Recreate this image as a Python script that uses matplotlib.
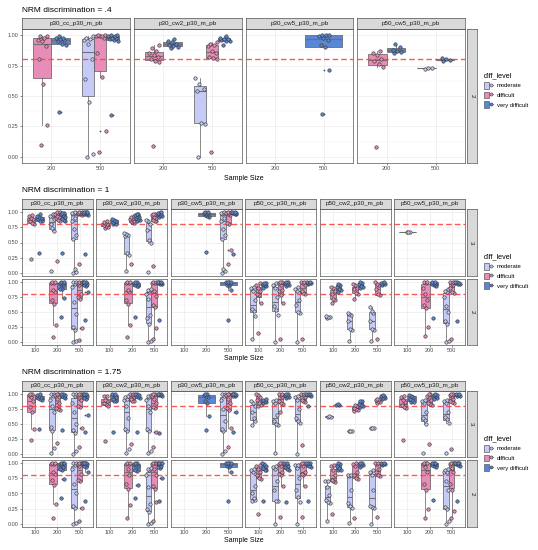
import numpy as np
import matplotlib
matplotlib.use("Agg")
import matplotlib.pyplot as plt
from matplotlib.patches import Patch
from matplotlib.lines import Line2D
from matplotlib.legend_handler import HandlerTuple

plt.rcParams['font.family'] = ['Liberation Sans', 'DejaVu Sans']

# ---- categories ----
levels = ['moderate', 'difficult', 'very difficult']
level_keys = ['mod', 'dif', 'vd']
level_colors = ['#C5CBF6', '#E88DB8', '#5A86D6']
conds_04 = ['p30_cc_p30_m_pb', 'p30_cw2_p30_m_pb', 'p30_cw5_p30_m_pb', 'p50_cw5_p30_m_pb']
conds_all = ['p30_cc_p30_m_pb', 'p30_cw2_p30_m_pb', 'p30_cw5_p30_m_pb',
             'p50_cc_p30_m_pb', 'p50_cw2_p30_m_pb', 'p50_cw5_p30_m_pb']
sizes_04 = [200, 500]
sizes_all = [100, 200, 500]
cutoff = 0.8

# ---- NRM discrimination = .4 (row 2) ----
s1_cc = {
    (200, 'dif'): [0.10, 0.26, 0.60, 0.80, 0.91, 0.95, 0.96, 0.98, 0.99, 0.99],
    (200, 'vd'): [0.37, 0.92, 0.93, 0.95, 0.96, 0.97, 0.98, 0.98, 0.99],
    (500, 'mod'): [0.00, 0.02, 0.45, 0.64, 0.80, 0.93, 0.96, 0.97, 0.98, 0.99],
    (500, 'dif'): [0.04, 0.21, 0.66, 0.85, 0.98, 0.99, 0.99, 0.99, 1.0, 1.0],
    (500, 'vd'): [0.34, 0.95, 0.96, 0.97, 0.98, 0.98, 0.99, 0.99, 1.0, 1.0],
}
s1_cw2 = {
    (200, 'dif'): [0.09, 0.78, 0.79, 0.80, 0.82, 0.84, 0.85, 0.87, 0.89, 0.92],
    (200, 'vd'): [0.89, 0.90, 0.91, 0.92, 0.93, 0.94, 0.95, 0.97],
    (500, 'mod'): [0.00, 0.27, 0.28, 0.54, 0.56, 0.60, 0.65],
    (500, 'dif'): [0.04, 0.80, 0.81, 0.82, 0.85, 0.87, 0.91, 0.92, 0.93, 0.94],
    (500, 'vd'): [0.92, 0.95, 0.955, 0.96, 0.965, 0.97, 0.98, 0.99],
}
s1_cw5 = {
    (500, 'vd'): [0.35, 0.71, 0.90, 0.92, 0.96, 0.98, 0.99, 1.0, 1.0, 1.0],
}
s1_p50cw5 = {
    (200, 'dif'): [0.08, 0.74, 0.76, 0.79, 0.80, 0.84, 0.85, 0.87],
    (200, 'vd'): [0.855, 0.86, 0.87, 0.88, 0.90, 0.93],
    (500, 'mod'): [0.725, 0.727, 0.73],
    (500, 'vd'): [0.79, 0.795, 0.80, 0.81],
}

# ---- NRM discrimination = 1 ----
s2_r3_cc = {
    (100, 'dif'): [0.23, 0.80, 0.82, 0.85, 0.88, 0.90, 0.93, 0.95],
    (100, 'vd'): [0.32, 0.85, 0.86, 0.88, 0.90, 0.92, 0.93, 0.97],
    (200, 'mod'): [0.04, 0.69, 0.73, 0.80, 0.88, 0.93, 0.94, 0.97],
    (200, 'dif'): [0.20, 0.86, 0.87, 0.90, 0.92, 0.93, 0.96, 0.98, 1.0, 1.0],
    (200, 'vd'): [0.32, 0.86, 0.87, 0.88, 0.92, 0.95, 0.97, 0.98, 0.99],
    (500, 'mod'): [0.0, 0.02, 0.07, 0.55, 0.62, 0.72, 0.85, 0.90, 0.96, 0.98, 0.98, 0.99, 1.0],
    (500, 'dif'): [0.14, 0.95, 0.96, 0.97, 0.98, 0.98, 0.99, 0.99, 1.0, 1.0],
    (500, 'vd'): [0.31, 0.95, 0.96, 0.97, 0.98, 0.99, 0.99, 1.0, 1.0, 1.0],
}
s2_r3_cw2 = {
    (100, 'dif'): [0.74, 0.75, 0.77, 0.78, 0.80, 0.82, 0.83, 0.85],
    (100, 'vd'): [0.80, 0.81, 0.83, 0.84, 0.86, 0.87, 0.88],
    (200, 'mod'): [0.03, 0.30, 0.32, 0.60, 0.62, 0.64, 0.66],
    (200, 'dif'): [0.15, 0.82, 0.83, 0.85, 0.86, 0.88, 0.89, 0.91, 0.92, 0.93],
    (200, 'vd'): [0.86, 0.87, 0.89, 0.90, 0.92, 0.93, 0.95, 0.96, 0.97],
    (500, 'mod'): [0.01, 0.50, 0.54, 0.70, 0.80, 0.85, 0.87],
    (500, 'dif'): [0.12, 0.85, 0.86, 0.87, 0.90, 0.92, 0.95, 0.96, 0.97],
    (500, 'vd'): [0.92, 0.94, 0.95, 0.96, 0.97, 0.98, 0.99, 1.0],
}
s2_r3_cw5 = {
    (200, 'vd'): [0.35, 0.92, 0.93, 0.95, 0.96, 0.97, 0.98, 0.99, 1.0, 1.0],
    (500, 'mod'): [0.0, 0.04, 0.07, 0.55, 0.62, 0.72, 0.85, 0.90, 0.96, 0.98, 0.98, 0.99, 1.0],
    (500, 'dif'): [0.14, 0.38, 0.80, 0.82, 0.95, 0.97, 0.99, 0.99, 1.0, 1.0],
    (500, 'vd'): [0.31, 0.96, 0.97, 0.98, 0.99, 0.99, 1.0, 1.0],
}
s2_r3_p50cc = {}
s2_r3_p50cw2 = {}
s2_r3_p50cw5 = {
    (100, 'mod'): [0.67, 0.67, 0.675],
}
s2_r2_cc = {
    (200, 'dif'): [0.09, 0.29, 0.64, 0.70, 0.84, 0.86, 0.98, 0.99, 1.0, 1.0],
    (200, 'vd'): [0.41, 0.73, 0.88, 0.89, 0.95, 0.97, 0.98, 0.99, 1.0, 1.0],
    (500, 'mod'): [0.0, 0.02, 0.20, 0.25, 0.47, 0.66, 0.92, 0.97, 1.0, 1.0],
    (500, 'dif'): [0.04, 0.23, 0.72, 0.75, 0.80, 0.95, 0.98, 0.99, 1.0, 1.0],
    (500, 'vd'): [0.37, 0.83, 0.94, 0.95, 0.97, 0.99, 1.0, 1.0, 1.0],
}
s2_r2_cw2 = {
    (200, 'dif'): [0.09, 0.28, 0.64, 0.70, 0.84, 0.86, 0.98, 0.99, 1.0, 1.0],
    (200, 'vd'): [0.41, 0.93, 0.94, 0.95, 0.97, 0.98, 0.99, 1.0, 1.0],
    (500, 'mod'): [0.0, 0.02, 0.30, 0.40, 0.45, 0.72, 0.80, 0.85, 0.87, 0.88],
    (500, 'dif'): [0.05, 0.23, 0.58, 0.62, 0.77, 0.85, 0.98, 0.99, 1.0, 1.0],
    (500, 'vd'): [0.37, 0.96, 0.97, 0.98, 0.99, 1.0, 1.0, 1.0],
}
s2_r2_cw5 = {
    (500, 'vd'): [0.37, 0.86, 0.94, 0.95, 0.97, 0.99, 1.0, 1.0, 1.0, 1.0],
}
s2_r2_p50cc = {
    (100, 'mod'): [0.05, 0.44, 0.52, 0.55, 0.70, 0.85, 0.90, 0.92],
    (100, 'dif'): [0.15, 0.65, 0.78, 0.80, 0.85, 0.90, 0.95, 0.98],
    (100, 'vd'): [0.90, 0.93, 0.95, 0.96, 0.98, 0.99],
    (200, 'mod'): [0.0, 0.45, 0.53, 0.60, 0.75, 0.90, 0.95, 0.98],
    (200, 'dif'): [0.05, 0.65, 0.78, 0.85, 0.87, 0.95, 0.98, 1.0, 1.0],
    (200, 'vd'): [0.93, 0.95, 0.97, 0.99, 1.0, 1.0],
    (500, 'mod'): [0.0, 0.48, 0.50, 0.62, 0.70, 0.85, 0.88, 0.92],
    (500, 'dif'): [0.05, 0.80, 0.82, 0.85, 0.95, 0.98, 1.0, 1.0],
    (500, 'vd'): [0.97, 0.98, 0.99, 1.0, 1.0],
}
s2_r2_p50cw2 = {
    (100, 'mod'): [0.40, 0.41, 0.42, 0.43],
    (100, 'dif'): [0.65, 0.70, 0.72, 0.80, 0.85, 0.90, 0.92],
    (100, 'vd'): [0.84, 0.86, 0.88, 0.92, 0.95, 0.97],
    (200, 'mod'): [0.02, 0.20, 0.22, 0.35, 0.45, 0.47, 0.48],
    (200, 'dif'): [0.72, 0.80, 0.82, 0.88, 0.90, 0.95, 0.97],
    (200, 'vd'): [0.90, 0.92, 0.94, 0.96, 0.99, 1.0],
    (500, 'mod'): [0.02, 0.20, 0.22, 0.35, 0.48, 0.52, 0.58],
    (500, 'dif'): [0.05, 0.78, 0.80, 0.88, 0.95, 0.97, 1.0],
    (500, 'vd'): [0.95, 0.97, 0.98, 0.99, 1.0],
}
s2_r2_p50cw5 = {
    (200, 'dif'): [0.10, 0.25, 0.56, 0.62, 0.70, 0.80, 0.90, 0.98, 1.0, 1.0],
    (200, 'vd'): [0.40, 0.94, 0.95, 0.96, 0.97, 0.99, 1.0, 1.0],
    (500, 'mod'): [0.0, 0.02, 0.30, 0.35, 0.50, 0.60, 0.75, 0.84, 0.85, 0.88],
    (500, 'dif'): [0.05, 0.82, 0.83, 0.90, 0.95, 0.98, 1.0, 1.0],
    (500, 'vd'): [0.35, 0.96, 0.97, 0.98, 0.99, 1.0, 1.0],
}

# ---- NRM discrimination = 1.75 ----
s3_r3_cc = {
    (100, 'dif'): [0.23, 0.41, 0.70, 0.78, 0.88, 0.95, 0.99, 1.0, 1.0],
    (100, 'vd'): [0.41, 0.90, 0.92, 0.93, 0.95, 0.97, 0.99, 1.0],
    (200, 'mod'): [0.02, 0.10, 0.38, 0.45, 0.70, 0.80, 0.90, 0.97, 1.0, 1.0],
    (200, 'dif'): [0.18, 0.74, 0.75, 0.76, 0.85, 0.92, 0.98, 1.0, 1.0],
    (200, 'vd'): [0.40, 0.93, 0.95, 0.97, 0.99, 1.0, 1.0],
    (500, 'mod'): [0.0, 0.05, 0.35, 0.40, 0.50, 0.70, 0.85, 0.97, 1.0, 1.0],
    (500, 'dif'): [0.11, 0.43, 0.78, 0.80, 0.90, 0.95, 0.98, 1.0, 1.0],
    (500, 'vd'): [0.36, 0.65, 0.92, 0.94, 0.97, 0.99, 1.0, 1.0, 1.0],
}
s3_r3_cw2 = {
    (100, 'dif'): [0.22, 0.80, 0.83, 0.85, 0.88, 0.90, 0.96, 0.97],
    (100, 'vd'): [0.36, 0.88, 0.89, 0.92, 0.95, 0.98, 1.0, 1.0],
    (200, 'mod'): [0.02, 0.08, 0.38, 0.42, 0.60, 0.80, 0.90, 0.92, 0.95, 0.97],
    (200, 'dif'): [0.17, 0.88, 0.89, 0.92, 0.95, 0.98, 1.0, 1.0],
    (200, 'vd'): [0.36, 0.93, 0.95, 0.97, 0.99, 1.0, 1.0],
    (500, 'mod'): [0.01, 0.05, 0.38, 0.42, 0.70, 0.80, 0.90, 0.95, 0.97, 0.98],
    (500, 'dif'): [0.11, 0.36, 0.76, 0.78, 0.85, 0.92, 0.97, 1.0, 1.0],
    (500, 'vd'): [0.35, 0.97, 0.98, 0.99, 1.0, 1.0, 1.0],
}
s3_r3_cw5 = {
    (200, 'vd'): [0.40, 0.64, 0.85, 0.88, 0.95, 0.97, 0.99, 1.0, 1.0],
    (500, 'mod'): [0.0, 0.05, 0.38, 0.42, 0.55, 0.75, 0.90, 0.97, 1.0, 1.0],
    (500, 'dif'): [0.11, 0.43, 0.73, 0.76, 0.85, 0.92, 0.98, 1.0, 1.0],
    (500, 'vd'): [0.36, 0.70, 0.96, 0.97, 0.99, 1.0, 1.0, 1.0, 1.0],
}
s3_r3_p50cc = {
    (100, 'mod'): [0.48, 0.55, 0.60, 0.70, 0.80, 0.85, 0.88],
    (100, 'dif'): [0.80, 0.82, 0.85, 0.90, 0.95, 0.98, 1.0],
    (100, 'vd'): [0.85, 0.86, 0.88, 0.90, 0.92],
    (200, 'mod'): [0.02, 0.48, 0.50, 0.55, 0.65, 0.85, 0.88, 0.90],
    (200, 'dif'): [0.70, 0.84, 0.85, 0.88, 0.95, 0.98, 1.0, 1.0],
    (200, 'vd'): [0.93, 0.95, 0.97, 0.99, 1.0, 1.0],
    (500, 'mod'): [0.0, 0.52, 0.55, 0.60, 0.75, 0.90, 0.95, 0.97],
    (500, 'dif'): [0.15, 0.87, 0.88, 0.90, 0.95, 0.98, 1.0, 1.0],
    (500, 'vd'): [0.80, 0.97, 0.98, 0.99, 1.0, 1.0, 1.0],
}
s3_r3_p50cw2 = {
    (100, 'mod'): [0.62, 0.625, 0.63],
    (100, 'vd'): [0.82, 0.82, 0.83],
    (200, 'mod'): [0.38, 0.385, 0.39],
    (200, 'dif'): [0.72, 0.73, 0.75, 0.77, 0.80, 0.81],
    (200, 'vd'): [0.79, 0.80, 0.82, 0.84, 0.88, 0.89],
    (500, 'mod'): [0.43, 0.43, 0.435],
    (500, 'dif'): [0.85, 0.86, 0.88, 0.90, 0.91, 0.92],
    (500, 'vd'): [0.92, 0.93, 0.94, 0.96, 0.97, 0.98],
}
s3_r3_p50cw5 = {
    (100, 'dif'): [0.23, 0.77, 0.78, 0.82, 0.86, 0.90, 0.95, 0.96],
    (100, 'vd'): [0.86, 0.87, 0.90, 0.92, 0.95, 0.97, 0.98],
    (200, 'mod'): [0.02, 0.50, 0.57, 0.60, 0.70, 0.85, 0.89, 0.90],
    (200, 'dif'): [0.16, 0.82, 0.83, 0.85, 0.90, 0.95, 0.97, 1.0, 1.0],
    (200, 'vd'): [0.92, 0.93, 0.96, 0.98, 0.99, 1.0],
    (500, 'mod'): [0.01, 0.51, 0.58, 0.62, 0.70, 0.85, 0.89, 0.90],
    (500, 'dif'): [0.09, 0.85, 0.86, 0.88, 0.92, 0.97, 0.99, 1.0, 1.0],
    (500, 'vd'): [0.96, 0.97, 0.99, 1.0, 1.0],
}
s3_r2_cc = {
    (200, 'dif'): [0.10, 0.32, 0.64, 0.72, 0.82, 0.86, 0.98, 0.99, 1.0, 1.0],
    (200, 'vd'): [0.42, 0.73, 0.89, 0.90, 0.93, 0.97, 0.99, 1.0, 1.0, 1.0],
    (500, 'mod'): [0.0, 0.02, 0.26, 0.30, 0.50, 0.65, 0.90, 0.97, 1.0, 1.0],
    (500, 'dif'): [0.05, 0.26, 0.70, 0.72, 0.82, 0.95, 0.98, 1.0, 1.0, 1.0],
    (500, 'vd'): [0.38, 0.85, 0.93, 0.95, 0.98, 1.0, 1.0, 1.0, 1.0],
}
s3_r2_cw2 = {
    (200, 'dif'): [0.10, 0.31, 0.58, 0.65, 0.80, 0.90, 0.98, 0.99, 1.0, 1.0],
    (200, 'vd'): [0.42, 0.64, 0.87, 0.88, 0.95, 0.97, 0.99, 1.0, 1.0],
    (500, 'mod'): [0.0, 0.02, 0.20, 0.25, 0.33, 0.60, 0.80, 0.88, 0.90, 0.92],
    (500, 'dif'): [0.05, 0.36, 0.57, 0.62, 0.80, 0.90, 0.98, 1.0, 1.0, 1.0],
    (500, 'vd'): [0.38, 0.76, 0.92, 0.93, 0.95, 0.99, 1.0, 1.0, 1.0, 1.0],
}
s3_r2_cw5 = {
    (500, 'vd'): [0.38, 0.85, 0.93, 0.95, 0.97, 0.99, 1.0, 1.0, 1.0, 1.0],
}
s3_r2_p50cc = {
    (100, 'mod'): [0.37, 0.40, 0.42, 0.50, 0.62, 0.85, 0.88, 0.90],
    (100, 'dif'): [0.17, 0.74, 0.76, 0.80, 0.85, 0.90, 0.95, 0.97],
    (100, 'vd'): [0.37, 0.88, 0.89, 0.92, 0.95, 0.99, 1.0],
    (200, 'mod'): [0.0, 0.37, 0.38, 0.55, 0.70, 0.90, 0.94, 0.95],
    (200, 'dif'): [0.11, 0.62, 0.80, 0.82, 0.85, 0.95, 0.98, 1.0, 1.0],
    (200, 'vd'): [0.36, 0.88, 0.90, 0.93, 0.95, 0.99, 1.0, 1.0],
    (500, 'mod'): [0.0, 0.36, 0.45, 0.55, 0.75, 0.92, 0.96, 0.97],
    (500, 'dif'): [0.11, 0.62, 0.80, 0.82, 0.85, 0.95, 0.98, 1.0, 1.0],
    (500, 'vd'): [0.37, 0.93, 0.95, 0.99, 1.0, 1.0, 1.0],
}
s3_r2_p50cw2 = {
    (100, 'mod'): [0.05, 0.35, 0.36, 0.40, 0.48, 0.60, 0.70, 0.71],
    (100, 'dif'): [0.16, 0.69, 0.70, 0.72, 0.80, 0.88, 0.95, 0.96],
    (100, 'vd'): [0.88, 0.89, 0.92, 0.95, 0.99, 1.0],
    (200, 'mod'): [0.02, 0.27, 0.29, 0.35, 0.55, 0.79, 0.80, 0.81],
    (200, 'dif'): [0.10, 0.74, 0.76, 0.80, 0.85, 0.95, 0.98, 1.0],
    (200, 'vd'): [0.93, 0.96, 0.97, 0.99, 1.0, 1.0],
    (500, 'mod'): [0.0, 0.26, 0.28, 0.30, 0.55, 0.80, 0.86, 0.88],
    (500, 'dif'): [0.12, 0.78, 0.80, 0.85, 0.90, 0.98, 1.0, 1.0],
    (500, 'vd'): [0.96, 0.98, 0.99, 1.0, 1.0],
}
s3_r2_p50cw5 = {
    (200, 'dif'): [0.10, 0.25, 0.55, 0.65, 0.85, 0.93, 0.98, 1.0, 1.0, 1.0],
    (200, 'vd'): [0.40, 0.94, 0.95, 0.97, 0.99, 1.0, 1.0, 1.0],
    (500, 'mod'): [0.0, 0.05, 0.24, 0.28, 0.55, 0.70, 0.85, 0.86, 0.88, 0.90],
    (500, 'dif'): [0.10, 0.22, 0.56, 0.65, 0.85, 0.92, 0.98, 1.0, 1.0, 1.0],
    (500, 'vd'): [0.38, 0.95, 0.97, 0.99, 1.0, 1.0, 1.0, 1.0],
}

# ---- layout (pixels) ----
W, H = 538, 550
fig = plt.figure(figsize=(W / 100, H / 100), dpi=100)
box_edge = '#5c5c5c'
txt_col = '#4D4D4D'


def px_axes(x0, y0, x1, y1):
    return fig.add_axes([x0 / W, 1 - y1 / H, (x1 - x0) / W, (y1 - y0) / H])


def jitter_offsets(n, half=0.11):
    i = np.arange(n)
    return half * (2 * ((i * 0.618034 + 0.37) % 1.0) - 1)


def draw_panel(ax, data, sizes):
    for ci, s in enumerate(sizes):
        present = [k for k in level_keys if (s, k) in data]
        if not present:
            continue
        w = 0.75 / len(present)
        for gi, k in enumerate(present):
            pos = ci + 1 - 0.375 + w * (gi + 0.5)
            vals = np.array(data[(s, k)])
            col = level_colors[level_keys.index(k)]
            ax.boxplot([vals], positions=[pos], widths=w, patch_artist=True, whis=1.5,
                       showcaps=False, manage_ticks=False, zorder=2,
                       boxprops=dict(facecolor=col, edgecolor=box_edge, linewidth=0.5),
                       medianprops=dict(color='#707070', linewidth=0.8),
                       whiskerprops=dict(color=box_edge, linewidth=0.5),
                       flierprops=dict(marker='o', markersize=1.3, markerfacecolor='#555555',
                                       markeredgecolor='none'))
            ax.scatter(pos + jitter_offsets(len(vals)), vals, s=6, c=col,
                       edgecolors='#3a3a3a', linewidths=0.45, zorder=4)


def style_panel(ax, sizes, show_y, show_x):
    ax.set_xlim(0.4, len(sizes) + 0.6)
    ax.set_ylim(-0.05, 1.05)
    ax.set_yticks([0, 0.25, 0.5, 0.75, 1.0])
    ax.set_yticks([0.125, 0.375, 0.625, 0.875], minor=True)
    ax.set_xticks(range(1, len(sizes) + 1))
    ax.grid(True, which='major', color='#EBEBEB', linewidth=0.5)
    ax.grid(True, which='minor', axis='y', color='#F5F5F5', linewidth=0.3)
    ax.set_axisbelow(True)
    ax.axhline(cutoff, color='#FF4545', linestyle=(0, (4, 2.2)), linewidth=1.0,
               alpha=0.9, zorder=3)
    ax.tick_params(which='minor', length=0)
    ax.tick_params(which='major', width=0.4, color='#333333', labelsize=4,
                   labelcolor=txt_col, pad=1)
    ax.tick_params(axis='y', length=1.5 if show_y else 0, labelleft=show_y)
    ax.tick_params(axis='x', length=1.5 if show_x else 0, labelbottom=show_x)
    if show_y:
        ax.set_yticklabels(['0.00', '0.25', '0.50', '0.75', '1.00'])
    if show_x:
        ax.set_xticklabels([str(s) for s in sizes])
    for sp in ax.spines.values():
        sp.set_color('#555555')
        sp.set_linewidth(0.5)


def strip(x0, y0, x1, y1, label, rotate=False):
    s = px_axes(x0, y0, x1, y1)
    s.set_facecolor('#D9D9D9')
    s.set_xticks([])
    s.set_yticks([])
    for sp in s.spines.values():
        sp.set_color('#555555')
        sp.set_linewidth(0.5)
    s.text(0.5, 0.5, label, transform=s.transAxes, ha='center', va='center',
           fontsize=4.5, color='#1A1A1A', rotation=-90 if rotate else 0)


sections = [
    dict(title='NRM discrimination = .4', conds=conds_04, sizes=sizes_04,
         rows=[('2', (29, 163), [s1_cc, s1_cw2, s1_cw5, s1_p50cw5])],
         strip_y=(18, 29), title_y=10.5, xlab_y=178, leg_y=72, gap=4.0),
    dict(title='NRM discrimination = 1', conds=conds_all, sizes=sizes_all,
         rows=[('3', (209, 276), [s2_r3_cc, s2_r3_cw2, s2_r3_cw5, s2_r3_p50cc, s2_r3_p50cw2, s2_r3_p50cw5]),
               ('2', (279, 345), [s2_r2_cc, s2_r2_cw2, s2_r2_cw5, s2_r2_p50cc, s2_r2_p50cw2, s2_r2_p50cw5])],
         strip_y=(199, 209), title_y=191, xlab_y=359, leg_y=253, gap=3.5),
    dict(title='NRM discrimination = 1.75', conds=conds_all, sizes=sizes_all,
         rows=[('3', (391, 457), [s3_r3_cc, s3_r3_cw2, s3_r3_cw5, s3_r3_p50cc, s3_r3_p50cw2, s3_r3_p50cw5]),
               ('2', (460, 527), [s3_r2_cc, s3_r2_cw2, s3_r2_cw5, s3_r2_p50cc, s3_r2_p50cw2, s3_r2_p50cw5])],
         strip_y=(381, 391), title_y=373, xlab_y=540, leg_y=435, gap=3.5),
]

left, right = 22, 465
for sec in sections:
    n = len(sec['conds'])
    pw = (right - left - sec['gap'] * (n - 1)) / n
    xs = [left + j * (pw + sec['gap']) for j in range(n)]
    for ri, (rlab, (y0, y1), datas) in enumerate(sec['rows']):
        last = ri == len(sec['rows']) - 1
        for j in range(n):
            ax = px_axes(xs[j], y0, xs[j] + pw, y1)
            style_panel(ax, sec['sizes'], show_y=(j == 0), show_x=last)
            draw_panel(ax, datas[j], sec['sizes'])
        strip(right + 1.5, y0, right + 12, y1, rlab, rotate=True)
    for j in range(n):
        strip(xs[j], sec['strip_y'][0], xs[j] + pw, sec['strip_y'][1], sec['conds'][j])
    fig.text(left / W, 1 - sec['title_y'] / H, sec['title'], fontsize=6,
             ha='left', va='center', color='black')
    fig.text((left + right) / 2 / W, 1 - sec['xlab_y'] / H, 'Sample Size', fontsize=5,
             ha='center', va='center', color='black')
    handles = [(Patch(facecolor=c, edgecolor=box_edge, linewidth=0.5),
                Line2D([], [], color='#707070', linewidth=0.6, marker='o', markersize=2.2,
                       markerfacecolor=c, markeredgecolor='#3a3a3a', markeredgewidth=0.4))
               for c in level_colors]
    fig.legend(handles, levels, handler_map={tuple: HandlerTuple(ndivide=None)},
               loc='upper left', bbox_to_anchor=(484 / W, 1 - sec['leg_y'] / H),
               frameon=False, fontsize=4.2, title='diff_level', title_fontsize=5.2,
               alignment='left', handlelength=1.6, handleheight=1.4, labelspacing=0.5,
               handletextpad=0.6, borderaxespad=0, borderpad=0)

fig.savefig('out.png', dpi=100, facecolor='white')
